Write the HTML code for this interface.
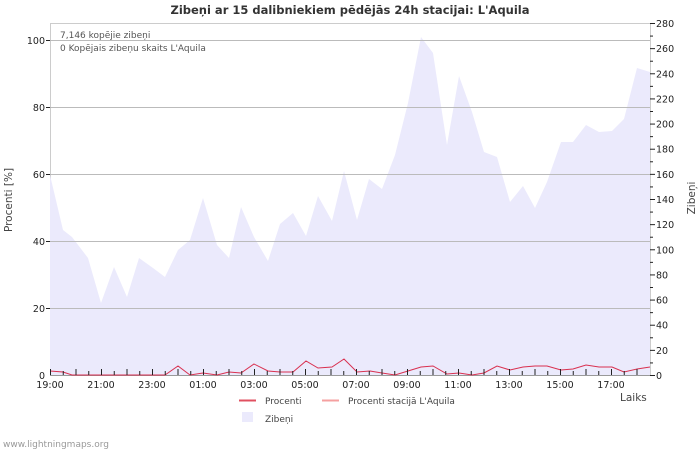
<!DOCTYPE html>
<html><head><meta charset="utf-8"><style>
body{margin:0;background:#fff;}
svg{display:block;font-family:"DejaVu Sans","Liberation Sans",sans-serif;}
</style></head><body>
<svg width="700" height="450" viewBox="0 0 700 450">
<rect width="700" height="450" fill="#fff"/>
<text x="350" y="14" text-anchor="middle" font-size="11.5" font-weight="bold" fill="#333">Zibeņi ar 15 dalibniekiem pēdējās 24h stacijai: L'Aquila</text>
<rect x="50.5" y="23.5" width="600" height="351" fill="none" stroke="#ccc"/>
<polygon fill="#ebeafc" points="50,375 50,175 63,230 72,237 88,258 101,303 114,267 127,297 139,258 153,268 165,277 178,250 190,240 203,198 217,245 229,258 241,207 254,237 268,261 280,224 293,213 306,236 318,196 332,221 344,171 357,220 369,179 382,189 395,155 408,103 421,37 433,53 447,145 459,76 472,112 484,152 497,157 510,202 523,186 535,208 547,182 561,142 573,142 586,125 599,132 612,131 624,119 637,68 650,72 650,375"/>
<g stroke="#bbb" stroke-width="1">
<line x1="50" y1="40.5" x2="650" y2="40.5"/><line x1="50" y1="107.5" x2="650" y2="107.5"/><line x1="50" y1="174.5" x2="650" y2="174.5"/><line x1="50" y1="241.5" x2="650" y2="241.5"/><line x1="50" y1="308.5" x2="650" y2="308.5"/>
</g>
<line x1="50" y1="375.5" x2="650" y2="375.5" stroke="#999"/>
<line x1="650.5" y1="23" x2="650.5" y2="375" stroke="#ccc"/>
<polyline fill="none" stroke="#d9304f" stroke-width="1" points="50,371 63,372 72,375 165,375 178,366 190,375 203,373 217,375 229,372 241,373 254,364 268,371 280,372 293,372 306,361 318,368 332,367 344,359 357,372 370,371 382,373 395,375 408,371 421,367 433,366 447,374 459,373 472,375 484,373 497,366 510,370 523,367 535,366 547,366 561,370 573,369 586,365 599,367 612,367 624,372 637,369 650,367"/>
<g font-size="9.5" fill="#222" text-anchor="end">
<text x="45" y="44">100</text><text x="45" y="111">80</text><text x="45" y="178">60</text><text x="45" y="245">40</text><text x="45" y="312">20</text><text x="45" y="379">0</text>
</g>
<g stroke="#222">
<line x1="46" y1="40.5" x2="50" y2="40.5"/><line x1="46" y1="107.5" x2="50" y2="107.5"/><line x1="46" y1="174.5" x2="50" y2="174.5"/><line x1="46" y1="241.5" x2="50" y2="241.5"/><line x1="46" y1="308.5" x2="50" y2="308.5"/>
</g>
<g id="rt" font-size="9.5" fill="#222"></g>
<g font-size="9.5" fill="#222" text-anchor="middle">
<text x="50" y="388">19:00</text><text x="101" y="388">21:00</text><text x="152" y="388">23:00</text><text x="203" y="388">01:00</text><text x="254" y="388">03:00</text><text x="305" y="388">05:00</text><text x="356" y="388">07:00</text><text x="407" y="388">09:00</text><text x="458" y="388">11:00</text><text x="509" y="388">13:00</text><text x="560" y="388">15:00</text><text x="611" y="388">17:00</text>
</g>
<g stroke="#222" id="xt"></g>
<text transform="translate(12,200) rotate(-90)" text-anchor="middle" font-size="10.5" fill="#444">Procenti   [%]</text>
<text transform="translate(695,198) rotate(-90)" text-anchor="middle" font-size="10.5" fill="#444">Zibeņi</text>
<text x="620" y="401" font-size="10.5" fill="#444">Laiks</text>
<text x="60" y="38" font-size="9" fill="#555">7,146 kopējie zibeņi</text>
<text x="60" y="51" font-size="9" fill="#555">0 Kopējais zibeņu skaits L'Aquila</text>
<line x1="239" y1="400.5" x2="256" y2="400.5" stroke="#e05060" stroke-width="2"/>
<text x="265" y="404" font-size="9" fill="#444">Procenti</text>
<line x1="322" y1="400.5" x2="339" y2="400.5" stroke="#f5a0a0" stroke-width="2"/>
<text x="348" y="404" font-size="9" fill="#444">Procenti stacijā L'Aquila</text>
<rect x="242" y="412" width="11" height="10" fill="#ebeafc"/>
<text x="265" y="422" font-size="9" fill="#444">Zibeņi</text>
<text x="3" y="447" font-size="9" fill="#999">www.lightningmaps.org</text>
</svg>
<script>
var ns="http://www.w3.org/2000/svg";
var rt=document.getElementById("rt");
for(var v=0;v<=280;v+=10){var y=375-v*352/280;var l=document.createElementNS(ns,"line");
l.setAttribute("x1",650);l.setAttribute("x2",v%20?653:655);l.setAttribute("y1",y+0.5);l.setAttribute("y2",y+0.5);l.setAttribute("stroke","#222");rt.appendChild(l);
if(v%20==0){var t=document.createElementNS(ns,"text");t.setAttribute("x",656);t.setAttribute("y",y+4);t.textContent=v;rt.appendChild(t);}}
var xt=document.getElementById("xt");
for(var i=0;i<=46;i++){var x=50+i*12.75;var l=document.createElementNS(ns,"line");
l.setAttribute("x1",x+0.5);l.setAttribute("x2",x+0.5);l.setAttribute("y1",371);l.setAttribute("y2",i%2?375:375);if(i%2==0)l.setAttribute("y1",369);xt.appendChild(l);}
</script>
</body></html>
